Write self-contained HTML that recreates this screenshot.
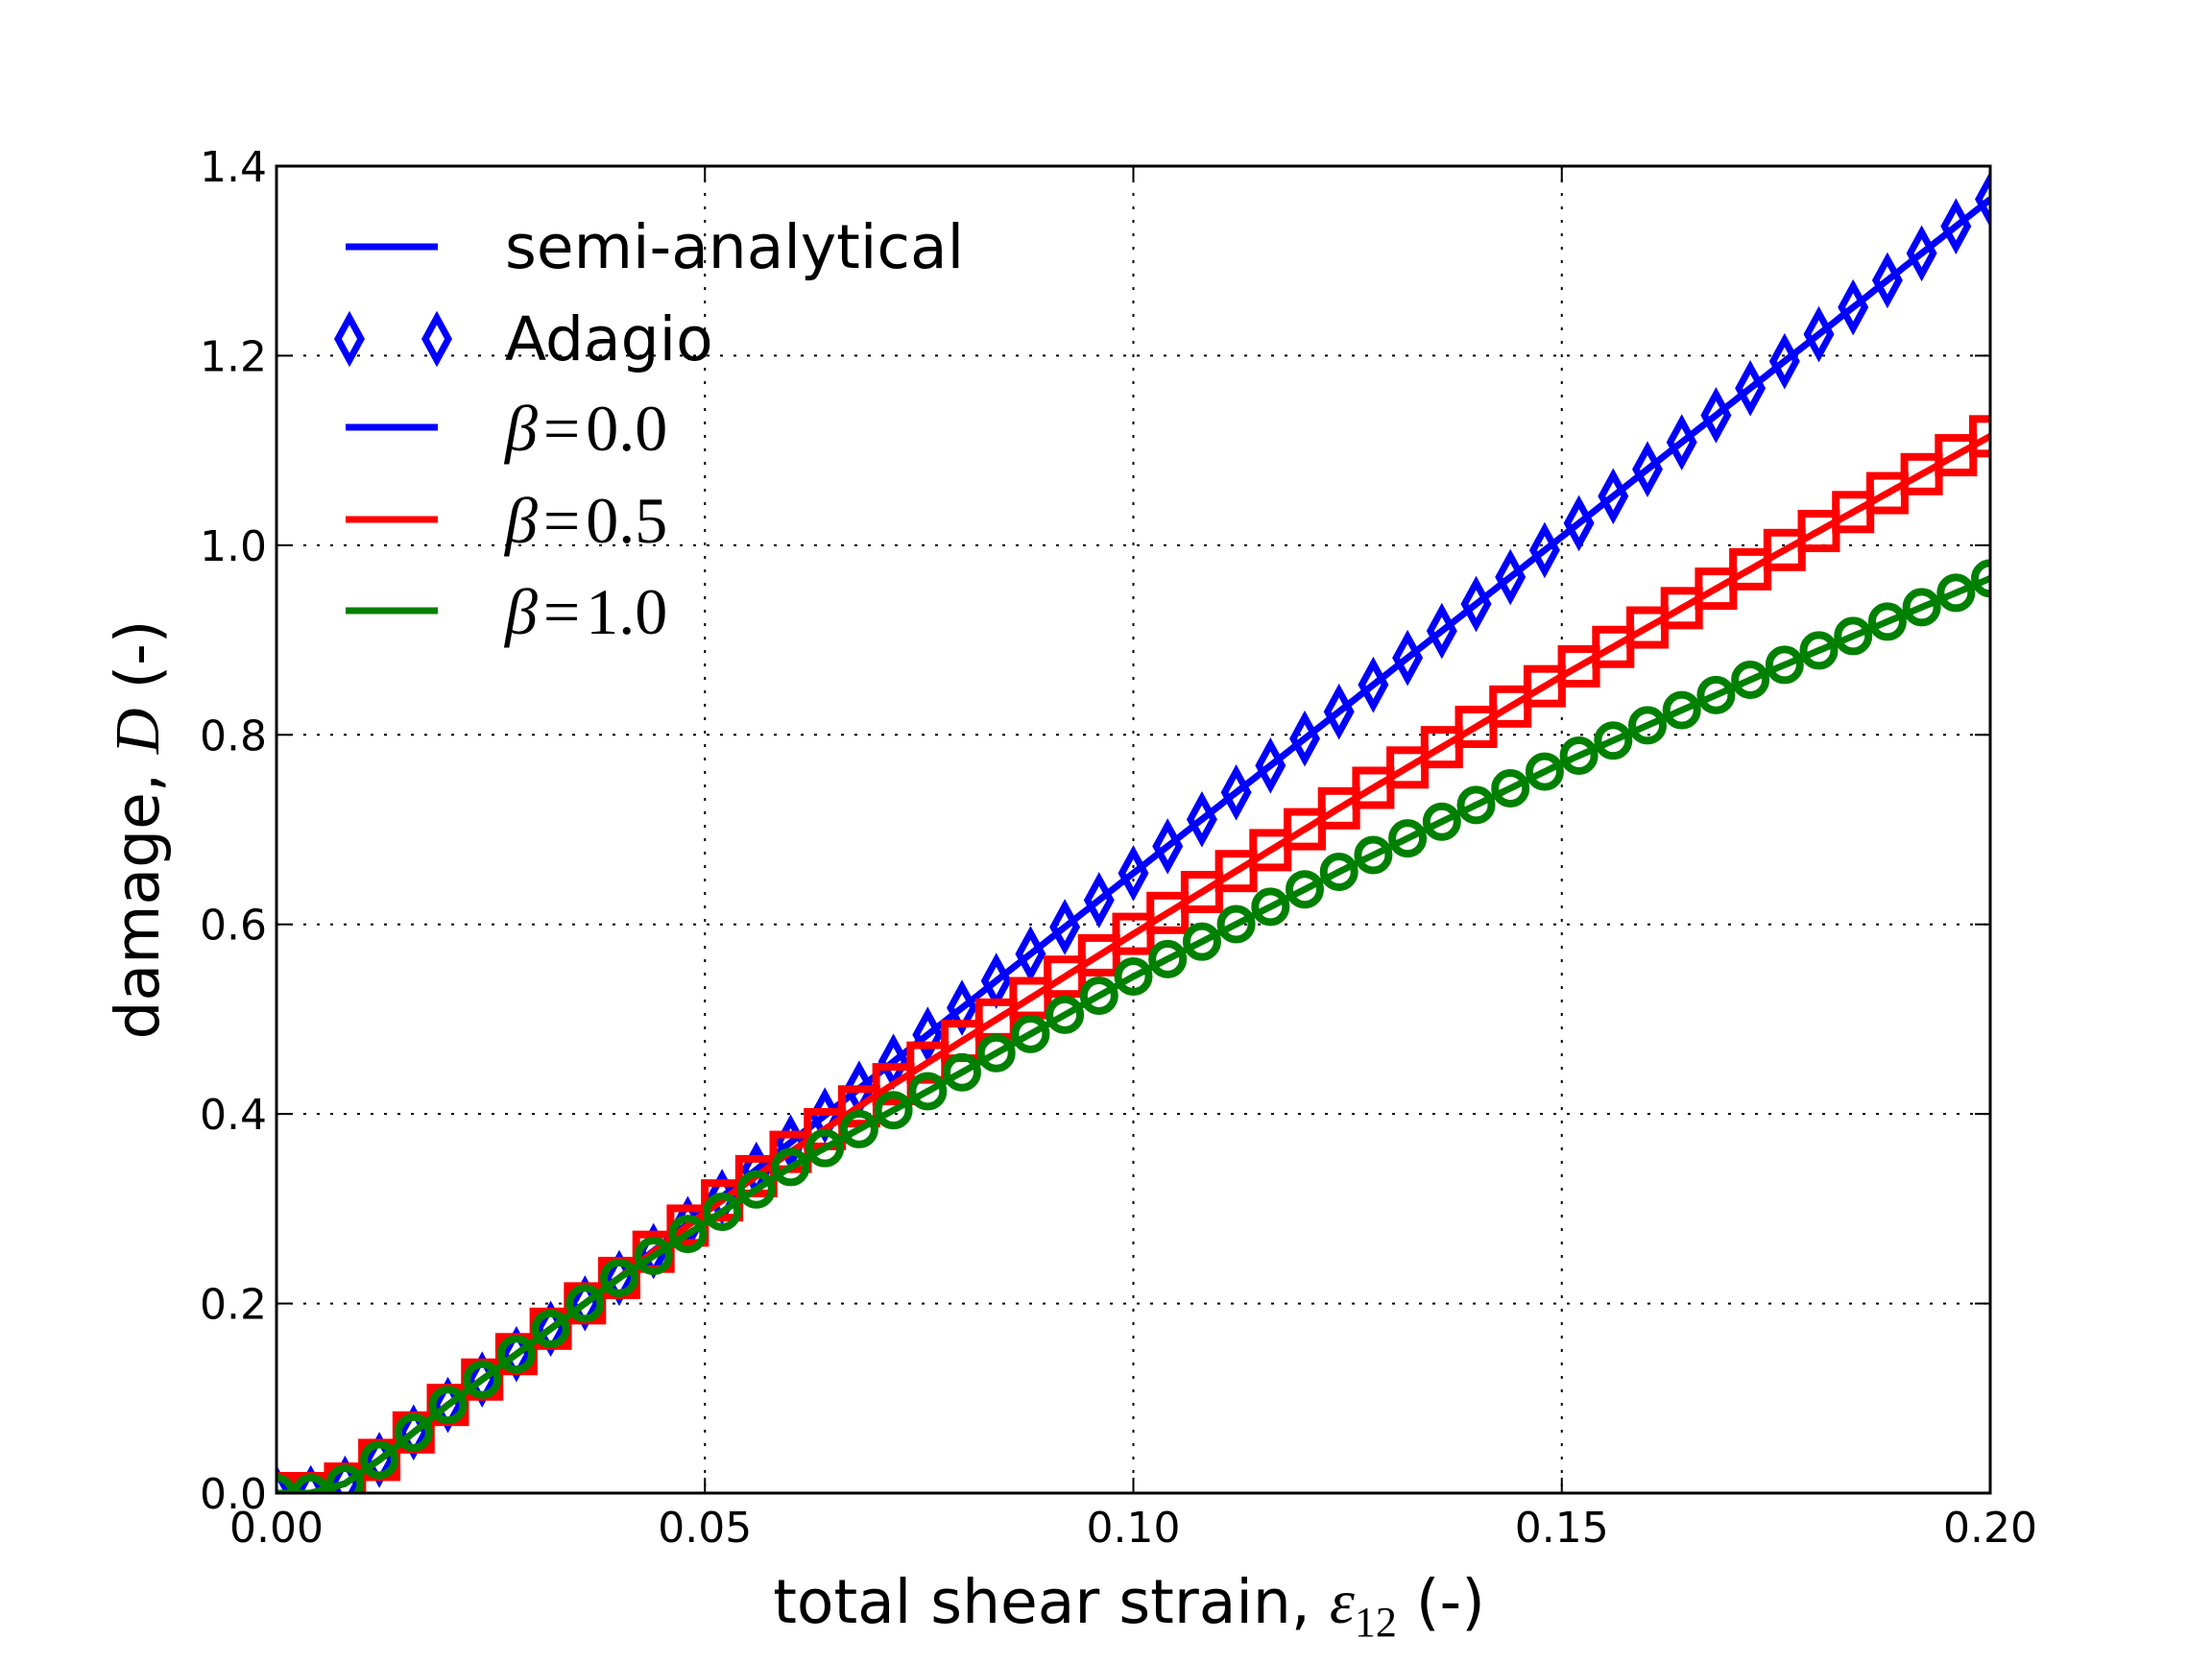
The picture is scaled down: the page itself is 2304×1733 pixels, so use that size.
<!DOCTYPE html>
<html><head><meta charset="utf-8"><style>
html,body{margin:0;padding:0;background:#fff;}
svg text{font-family:"DejaVu Sans","Liberation Sans",sans-serif;}
.m{font-family:"Liberation Serif","DejaVu Serif",serif;font-style:italic;}
.r{font-family:"Liberation Serif","DejaVu Serif",serif;}
</style></head><body>
<svg id="s" width="2304" height="1728" xmlns="http://www.w3.org/2000/svg">
<defs><clipPath id="cp"><rect x="288" y="173" width="1785" height="1382"/></clipPath></defs>
<rect width="2304" height="1728" fill="#fff"/>
<g id="grid" stroke="#000" stroke-width="2" stroke-dasharray="3,11"></g>
<g id="data" clip-path="url(#cp)"></g>
<g id="frame"></g>
<g font-size="44" fill="#000" id="ticks"></g>
<text x="1176" y="1690" font-size="63" text-anchor="middle">total shear strain, <tspan class="m" font-size="66">ε</tspan><tspan class="r" font-size="44" dy="14">12</tspan><tspan dy="-14"> (-)</tspan></text>
<text transform="translate(165,864) rotate(-90)" font-size="63" text-anchor="middle">damage, <tspan class="m" font-size="66">D</tspan> (-)</text>
<g id="legend"></g>
</svg>
<script>
var L=288,R=2073,T=173,B=1555;
function X(x){return L+(R-L)*x/0.2;}
function Y(y){return B-(B-T)*y/1.4;}
var ns="http://www.w3.org/2000/svg";
function el(p,t,a){var e=document.createElementNS(ns,t);for(var k in a)e.setAttribute(k,a[k]);p.appendChild(e);return e;}
var grid=document.getElementById('grid'),frame=document.getElementById('frame'),ticks=document.getElementById('ticks');
[0.05,0.1,0.15].forEach(function(v){el(grid,'line',{x1:X(v),x2:X(v),y1:T,y2:B});});
[0.2,0.4,0.6,0.8,1.0,1.2].forEach(function(v){el(grid,'line',{x1:L,x2:R,y1:Y(v),y2:Y(v)});});
["0.00","0.05","0.10","0.15","0.20"].forEach(function(s,i){var x=X(i*0.05);
 el(frame,'line',{x1:x,x2:x,y1:B,y2:B-16,stroke:'#000','stroke-width':2});
 el(frame,'line',{x1:x,x2:x,y1:T,y2:T+16,stroke:'#000','stroke-width':2});
 var t=el(ticks,'text',{x:x,y:1606,'text-anchor':'middle'});t.textContent=s;});
["0.0","0.2","0.4","0.6","0.8","1.0","1.2","1.4"].forEach(function(s,i){var y=Y(i*0.2);
 el(frame,'line',{x1:L,x2:L+16,y1:y,y2:y,stroke:'#000','stroke-width':2});
 el(frame,'line',{x1:R,x2:R-16,y1:y,y2:y,stroke:'#000','stroke-width':2});
 var t=el(ticks,'text',{x:278,y:y+16,'text-anchor':'end'});t.textContent=s;});
el(frame,'rect',{x:L,y:T,width:R-L,height:B-T,fill:'none',stroke:'#000','stroke-width':3});
function interp(pts,x){for(var i=0;i<pts.length-1;i++){if(x<=pts[i+1][0]){var a=pts[i],b=pts[i+1];var t=(x-a[0])/(b[0]-a[0]);return a[1]+t*(b[1]-a[1]);}}return pts[pts.length-1][1];}
var early=[[0,0],[0.004,0.0],[0.008,0.01],[0.012,0.035],[0.016,0.064],[0.02,0.093],[0.03,0.16],[0.04,0.227]];
var blue=early.concat([[0.05,0.298],[0.06,0.37],[0.08,0.512],[0.1,0.654],[0.15,1.009],[0.2,1.365]]);
var red=early.concat([[0.05,0.296],[0.06,0.36],[0.07,0.42],[0.08,0.477],[0.1,0.59],[0.125,0.728],[0.15,0.862],[0.175,0.99],[0.2,1.115]]);
var green=early.concat([[0.05,0.285],[0.06,0.344],[0.07,0.394],[0.08,0.444],[0.1,0.545],[0.125,0.66],[0.15,0.77],[0.175,0.87],[0.2,0.965]]);
var data=document.getElementById('data');
function dia(p,px,py,col){el(p,'polygon',{points:(px)+','+(py-22)+' '+(px+12)+','+py+' '+px+','+(py+22)+' '+(px-12)+','+py,fill:'none',stroke:col,'stroke-width':7});}
function series(pts,col,mk){
 var d='';for(var i=0;i<=400;i++){var x=0.2*i/400;d+=(i?'L':'M')+X(x).toFixed(1)+','+Y(interp(pts,x)).toFixed(1);}
 el(data,'path',{d:d,fill:'none',stroke:col,'stroke-width':7});
 for(var i=0;i<=50;i++){var x=i*0.004,px=X(x),py=Y(interp(pts,x));
  if(mk=='d')dia(data,px,py,col);
  else if(mk=='s')el(data,'rect',{x:px-18,y:py-18,width:36,height:36,fill:'none',stroke:col,'stroke-width':8});
  else el(data,'circle',{cx:px,cy:py,r:16,fill:'none',stroke:col,'stroke-width':8});}
}
series(blue,'#0000ff','d');series(red,'#ff0000','s');series(green,'#008000','o');
var lg=document.getElementById('legend');
function ltext(y,html){var t=el(lg,'text',{x:526,y:y+22,'font-size':63});t.innerHTML=html;}
el(lg,'line',{x1:360,x2:456,y1:257,y2:257,stroke:'#0000ff','stroke-width':7});ltext(257,'semi-analytical');
[364,455].forEach(function(px){dia(lg,px,353,'#0000ff');});
ltext(353,'Adagio');
[[445,'#0000ff','0.0'],[541,'#ff0000','0.5'],[636,'#008000','1.0']].forEach(function(r){
 el(lg,'line',{x1:360,x2:456,y1:r[0],y2:r[0],stroke:r[1],'stroke-width':7});
 var t=el(lg,'text',{x:526,y:r[0]+24,'font-size':68});
 t.innerHTML='<tspan class="m">β</tspan><tspan class="r" dx="6">=</tspan><tspan class="r" dx="6">'+r[2]+'</tspan>';});
</script>
</body></html>
